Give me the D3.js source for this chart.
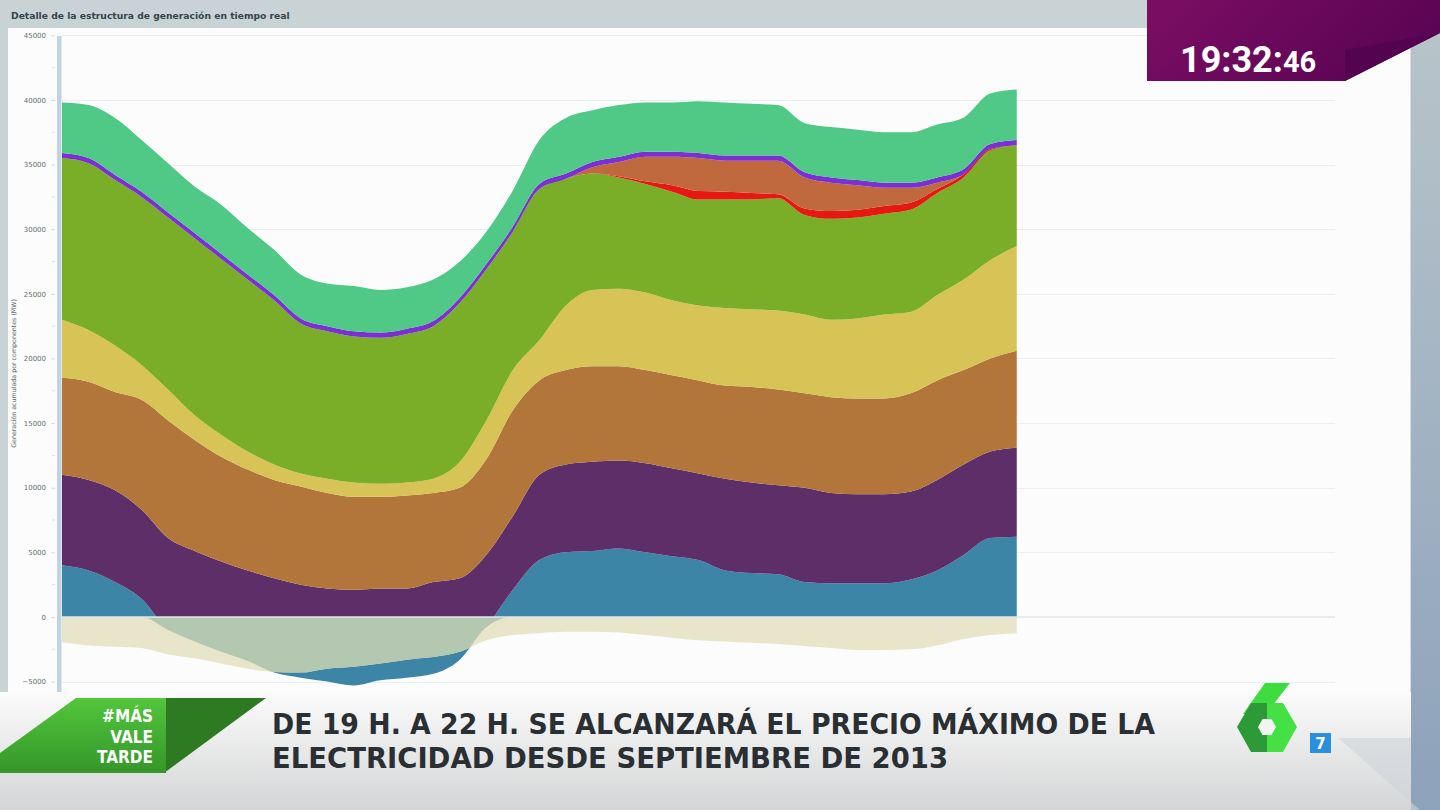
<!DOCTYPE html>
<html><head><meta charset="utf-8">
<script src="https://cdn.jsdelivr.net/npm/d3@7"></script>
<style>html,body{margin:0;padding:0;background:#c9d2d5;overflow:hidden}svg{display:block}</style>
</head><body><svg id="c" width="1440" height="810"></svg>
<script>
// ---------- DATA (MW, every 30 min) ----------
const hours = [0,0.5,1,1.5,2,2.5,3,3.5,4,4.5,5,5.5,6,6.5,7,7.5,8,8.5,9,9.5,10,10.5,11,11.5,12,12.5,13,13.5,14,14.5,15,15.5,16,16.5,17,17.5,18];
const intercambios = [4000,3600,2700,1400,-1000,-1900,-2700,-3400,-4300,-4700,-5000,-5300,-4900,-4700,-4400,-3300,-800,2100,4400,5000,5100,5300,5000,4700,4400,3600,3400,3300,2700,2600,2600,2600,2900,3600,4800,6100,6200];
const nuclear = [7000,7000,7100,6900,7100,7000,7000,7000,7300,7200,7200,7400,7100,6900,7100,6300,5600,5700,6600,6800,6900,6800,6900,6800,6700,7100,7000,6900,7300,7000,6900,6900,6800,7000,7000,6700,6900];
const carbon = [7500,7600,7600,8500,9100,8600,8100,7800,7600,7600,7400,7200,7100,7200,6900,7000,7400,8200,7300,7300,7400,7300,7200,7200,7200,7200,7400,7400,7300,7400,7400,7400,7600,7700,7300,7200,7500];
const cicloCombinado = [4500,4000,3600,2700,2400,1900,1700,1400,1200,1000,1100,1100,1000,1000,1100,2000,3000,3100,3100,5000,5900,6000,6000,5800,5800,6000,6000,6100,6100,6000,6200,6500,6300,6600,7000,7600,8100];
const eolica = [12500,12900,12800,13000,13300,13700,13600,13300,12700,11600,11400,11300,11300,11500,11800,12300,11700,10700,11700,9800,9000,8600,8400,8400,8200,8400,8500,8700,7700,7800,7800,7800,7900,7900,7900,8500,7800];
const solarTermica = [0,0,0,0,0,0,0,0,0,0,0,0,0,0,0,0,0,0,0,0,0,100,200,500,650,600,500,300,500,600,600,600,550,300,250,100,0];
const solarFotovoltaica = [0,0,0,0,0,0,0,0,0,0,0,0,0,0,0,0,0,0,0,0,500,1100,1900,2200,2550,2400,2500,2600,2400,2200,1900,1400,1150,500,0,0,0];
const resto = [400,400,400,400,400,400,400,400,400,400,400,400,400,400,400,400,400,400,400,400,400,400,400,400,400,400,400,400,400,400,400,400,400,400,400,400,400];
const hidraulica = [3900,4100,4400,4000,3800,3600,3800,3600,3500,3400,3300,3500,3300,3200,3200,2800,2500,2800,3400,4300,4000,4000,3800,3800,4000,4100,4000,3900,3800,3900,3900,3900,3900,4100,4000,3900,3900];
const consumoBombeo = [-1950,-2200,-2300,-2400,-2900,-3200,-3600,-4000,-4250,-4300,-4000,-3850,-3600,-3300,-3100,-2700,-1800,-1400,-1250,-1150,-1150,-1200,-1400,-1600,-1800,-1900,-2000,-2100,-2250,-2400,-2550,-2550,-2500,-2200,-1700,-1400,-1250];
const yTicks = [-5000,0,5000,10000,15000,20000,25000,30000,35000,40000,45000];
const seriesKeys = ["intercambios","nuclear","carbon","cicloCombinado","eolica","solarTermica","solarFotovoltaica","resto","hidraulica"];
const seriesColors = ["#3d85a6","#5e2e69","#b3763a","#d8c456","#7aad28","#e51812","#c0693f","#7a30d2","#50c886"];
const colorBombeo = "#e9e5ca", colorSolape = "#b4c8b1";
const titleText = "Detalle de la estructura de generación en tiempo real";
const yLabel = "Generación acumulada por componentes (MW)";

// ---------- TABLE ----------
const arrays = {intercambios, nuclear, carbon, cicloCombinado, eolica, solarTermica, solarFotovoltaica, resto, hidraulica};
const table = hours.map((h,i) => {
  const r = {h, bombeo: consumoBombeo[i]};
  seriesKeys.forEach(k => r[k] = arrays[k][i]);
  return r;
});

const svg = d3.select("#c");
const defs = svg.append("defs");

// ---------- FRAME ----------
svg.append("rect").attr("x",0).attr("y",0).attr("width",1440).attr("height",810).attr("fill","#c9d2d5");
svg.append("rect").attr("x",8).attr("y",28).attr("width",1402).attr("height",700).attr("fill","#fbfcfb");
const rg = defs.append("linearGradient").attr("id","rstrip").attr("x1",0).attr("y1",0).attr("x2",0).attr("y2",1);
rg.append("stop").attr("offset","0%").attr("stop-color","#b9c5ca");
rg.append("stop").attr("offset","100%").attr("stop-color","#8da2bb");
svg.append("rect").attr("x",1411).attr("y",0).attr("width",29).attr("height",810).attr("fill","url(#rstrip)");
svg.append("line").attr("x1",1410.5).attr("x2",1410.5).attr("y1",28).attr("y2",810).attr("stroke","#d6dde0");
svg.append("text").attr("x",11).attr("y",19).text(titleText)
  .attr("font-family","DejaVu Sans, sans-serif").attr("font-weight","bold").attr("font-size",9.2).attr("fill","#34464c");

// ---------- SCALES ----------
const x = d3.scaleLinear().domain([0,24]).range([62,1335]);
const y = d3.scaleLinear().domain([-5000,45000]).range([681.6,35.3]);

// grid
const grid = svg.append("g");
grid.selectAll("line").data(yTicks.filter(v=>v!==0)).join("line")
  .attr("x1",62).attr("x2",1335).attr("y1",d=>Math.round(y(d))+0.5).attr("y2",d=>Math.round(y(d))+0.5)
  .attr("stroke","#eceff0").attr("stroke-width",1);

// axis bar
svg.append("rect").attr("x",57).attr("y",36).attr("width",4.5).attr("height",665).attr("fill","#c1d3e3");
const axis = d3.axisLeft(y).tickValues(yTicks).tickSize(4).tickPadding(5).tickFormat(d3.format("d"));
const ag = svg.append("g").attr("transform","translate(55,0)").call(axis);
ag.select(".domain").remove();
ag.selectAll(".tick line").attr("stroke","#d3dde6");
ag.selectAll(".tick text").attr("font-family","DejaVu Sans, sans-serif").attr("font-size",7).attr("fill","#6a6f72");
// minor ticks
const minor = d3.range(0, yTicks.length-1).map(i => (yTicks[i]+yTicks[i+1])/2);
svg.append("g").selectAll("line").data(minor).join("line")
  .attr("x1",52).attr("x2",55).attr("y1",d=>y(d)).attr("y2",d=>y(d)).attr("stroke","#dbe3ea");
svg.append("text").attr("transform",`translate(16,${y(20000)+15}) rotate(-90)`).attr("text-anchor","middle")
  .attr("font-family","DejaVu Sans, sans-serif").attr("font-size",6.3).attr("fill","#5e6467").text(yLabel);

// ---------- STACK ----------
const stack = d3.stack().keys(seriesKeys).offset(d3.stackOffsetNone);
const layers = stack(table);
const curve = d3.curveMonotoneX;
const area = d3.area().x(d=>x(d.data.h)).y0(d=>y(d[0])).y1(d=>y(d[1])).curve(curve);
const negArea = key => d3.area().x(d=>x(d.h)).y0(y(0)).y1(d=>y(Math.min(0,d[key]))).curve(curve);

defs.append("clipPath").attr("id","above").append("rect").attr("x",0).attr("y",0).attr("width",1440).attr("height",y(0));
defs.append("clipPath").attr("id","below").append("rect").attr("x",0).attr("y",y(0)).attr("width",1440).attr("height",300);
defs.append("clipPath").attr("id","bombeoClip").append("path").attr("d", negArea("bombeo")(table));

// negative side
const neg = svg.append("g").attr("clip-path","url(#below)");
neg.append("path").attr("d", negArea("intercambios")(table)).attr("fill",seriesColors[0]);
neg.append("path").attr("d", negArea("bombeo")(table)).attr("fill",colorBombeo);
neg.append("g").attr("clip-path","url(#bombeoClip)")
  .append("path").attr("d", negArea("intercambios")(table)).attr("fill",colorSolape);

// positive side
const pos = svg.append("g").attr("clip-path","url(#above)");
pos.selectAll("path").data(layers).join("path")
  .attr("d", area).attr("fill",(d,i)=>seriesColors[i]);

// zero line
svg.append("line").attr("x1",62).attr("x2",1335).attr("y1",y(0)).attr("y2",y(0))
  .attr("stroke","#e1e7e8").attr("stroke-width",1.5);

// ---------- TV OVERLAYS ----------
// clock
const cg = defs.append("linearGradient").attr("id","clk").attr("x1",0).attr("y1",0).attr("x2",1).attr("y2",0.3);
cg.append("stop").attr("offset","0%").attr("stop-color","#7c0e63");
cg.append("stop").attr("offset","100%").attr("stop-color","#5b0455");
svg.append("path").attr("d","M1147,0 L1440,0 L1440,33 L1345,81 L1147,81 Z").attr("fill","url(#clk)");
svg.append("path").attr("d","M1345,50 L1440,33 L1345,81 Z").attr("fill","#540350");
const ct = svg.append("text").attr("x",1180).attr("y",72).attr("fill","#ffffff")
  .attr("font-family","Roboto, DejaVu Sans, sans-serif").attr("font-weight","bold");
ct.append("tspan").attr("font-size",36).text("19:32:");
ct.append("tspan").attr("font-size",29).text("46");

// bottom banner
const bg = defs.append("linearGradient").attr("id","ban").attr("x1",0).attr("y1",0).attr("x2",0).attr("y2",1);
bg.append("stop").attr("offset","0%").attr("stop-color","#fbfbfb");
bg.append("stop").attr("offset","100%").attr("stop-color","#d4d5d6");
svg.append("rect").attr("x",0).attr("y",692).attr("width",1411).attr("height",118).attr("fill","url(#ban)");
svg.append("path").attr("d","M1338,738 L1411,738 L1411,810 L1420,810 Z").attr("fill","#cfd4d9").attr("opacity",0.6);

// green tag
const tg = defs.append("linearGradient").attr("id","tag").attr("x1",0).attr("y1",0).attr("x2",0).attr("y2",1);
tg.append("stop").attr("offset","0%").attr("stop-color","#52c63c");
tg.append("stop").attr("offset","100%").attr("stop-color","#35962a");
svg.append("path").attr("d","M76,698 L166,698 L166,773 L0,773 L0,753 Z").attr("fill","url(#tag)");
svg.append("path").attr("d","M166,698 L266,698 L164,773 L166,773 Z").attr("fill","#2e7a22");
const tagLines = ["#MÁS","VALE","TARDE"];
svg.append("g").selectAll("text").data(tagLines).join("text")
  .attr("x",153).attr("y",(d,i)=>722+i*20.5).attr("text-anchor","end")
  .attr("font-family","DejaVu Sans Condensed, Liberation Sans Narrow, DejaVu Sans, sans-serif")
  .attr("font-stretch","condensed").attr("font-weight","bold").attr("font-size",17).attr("fill","#ffffff").text(d=>d);

// headline
const headline = [["DE 19 H. A 22 H. SE ALCANZARÁ EL PRECIO MÁXIMO DE LA", 734, 883],["ELECTRICIDAD DESDE SEPTIEMBRE DE 2013", 768, 676]];
svg.append("g").selectAll("text").data(headline).join("text")
  .attr("x",272).attr("y",d=>d[1]).attr("textLength",d=>d[2]).attr("lengthAdjust","spacingAndGlyphs")
  .attr("font-family","DejaVu Sans Condensed, Liberation Sans Narrow, DejaVu Sans, sans-serif")
  .attr("font-stretch","condensed").attr("font-weight","bold").attr("font-size",28.5).attr("fill","#2a2f33").text(d=>d[0]);

// logo "6"
const lg = svg.append("g");
lg.append("path").attr("d","M1265,683 L1290,683 L1266,714 L1243,714 Z").attr("fill","#3fdc3f");
lg.append("path").attr("d","M1237,727 L1251,703 L1267,703 L1267,752 L1251,752 Z").attr("fill","#2c9a36");
lg.append("path").attr("d","M1267,703 L1283,703 L1297,727 L1283,752 L1267,752 Z").attr("fill","#44e044");
lg.append("path").attr("d","M1258,727 L1262.5,719 L1271.5,719 L1276,727 L1271.5,735 L1262.5,735 Z").attr("fill","#f2f3f3");
lg.append("rect").attr("x",1310).attr("y",733).attr("width",21).attr("height",20).attr("fill","#2b8fdc");
lg.append("text").attr("x",1320.5).attr("y",749).attr("text-anchor","middle").attr("fill","#fff")
  .attr("font-family","DejaVu Sans, sans-serif").attr("font-weight","bold").attr("font-size",15).text("7");
</script></body></html>
